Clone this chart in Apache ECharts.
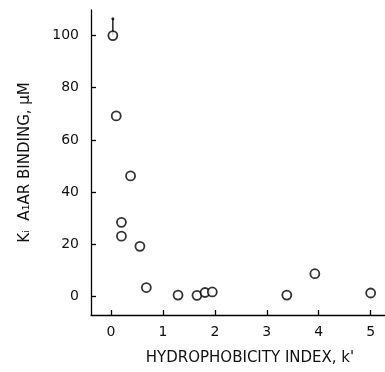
<!DOCTYPE html>
<html>
<head>
<meta charset="utf-8">
<script src="https://cdn.jsdelivr.net/npm/echarts@6/dist/echarts.min.js"></script>
<style>html,body{margin:0;padding:0;background:#fff;}#c{width:385px;height:372px;}</style>
</head>
<body>
<div id="c"></div>
<script>
// Data
var hydrophobicity = [0.035, 0.10, 0.376, 0.20, 0.20, 0.556, 0.68, 1.29, 1.655, 1.81, 1.95, 3.385, 3.925, 5.0];
var kiBinding      = [100, 69.2, 46.2, 28.4, 23.1, 19.2, 3.4, 0.5, 0.4, 1.5, 1.7, 0.5, 8.7, 1.3];
var errorBarX = [0.035];
var errorBarLow = [100];
var errorBarHigh = [106.4];
var xTicks = [0, 1, 2, 3, 4, 5];
var yTicks = [0, 20, 40, 60, 80, 100];
var xName = "HYDROPHOBICITY INDEX, k'";
var yName = "K\u1D62  A\u2081AR BINDING, \u03BCM";

var points = hydrophobicity.map(function (x, i) { return [x, kiBinding[i]]; });
var errLine = [];
errorBarX.forEach(function (x, i) { errLine.push([x, errorBarLow[i]]); errLine.push([x, errorBarHigh[i]]); });
var errTop = errorBarX.map(function (x, i) { return [x, errorBarHigh[i]]; });

var font = 'DejaVu Sans';
var ink = '#000';
var chart = echarts.init(document.getElementById('c'), null, { renderer: 'canvas' });
chart.setOption({
  animation: false,
  backgroundColor: '#fff',
  grid: { left: 91, top: 10, right: 0, bottom: 57, containLabel: false },
  xAxis: {
    type: 'value', min: -0.386, max: 5.276,
    splitLine: { show: false },
    axisLine: { show: true, onZero: false, lineStyle: { color: ink, width: 1.3 } },
    axisTick: { show: true, inside: true, length: 5, customValues: xTicks, lineStyle: { color: ink, width: 1.3 } },
    axisLabel: { customValues: xTicks, margin: 10, color: '#111', fontFamily: font, fontSize: 14 },
    name: xName, nameLocation: 'middle', nameGap: 36,
    nameTextStyle: { color: '#111', fontFamily: font, fontSize: 15, padding: [0, 0, 0, 24] }
  },
  yAxis: {
    type: 'value', min: -7.13, max: 109.8,
    splitLine: { show: false },
    axisLine: { show: true, onZero: false, lineStyle: { color: ink, width: 1.3 } },
    axisTick: { show: true, inside: true, length: 5, customValues: yTicks, lineStyle: { color: ink, width: 1.3 } },
    axisLabel: { customValues: yTicks, margin: 12, color: '#111', fontFamily: font, fontSize: 14 },
    name: yName, nameLocation: 'middle', nameGap: 58, nameRotate: 90,
    nameTextStyle: { color: '#111', fontFamily: font, fontSize: 15 }
  },
  series: [
    { type: 'line', data: errLine, showSymbol: false, symbol: 'none', z: 1,
      lineStyle: { color: ink, width: 1.3 } },
    { type: 'scatter', data: errTop, symbol: 'circle', symbolSize: 3, z: 2,
      itemStyle: { color: ink } },
    { type: 'scatter', data: points, symbol: 'circle', symbolSize: 9, z: 3,
      itemStyle: { color: '#fff', borderColor: ink, borderWidth: 1.8 } }
  ]
});
</script>
</body>
</html>
